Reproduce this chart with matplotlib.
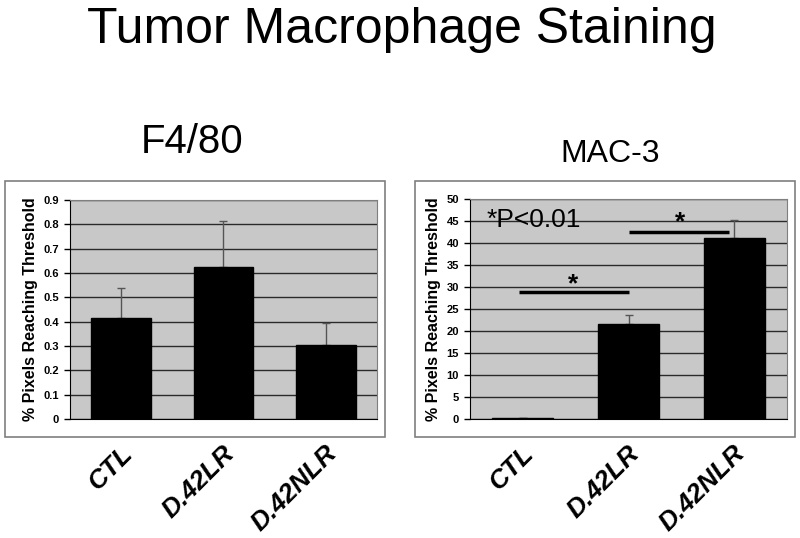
import numpy as np
import matplotlib
matplotlib.use('Agg')
import matplotlib.pyplot as plt
from matplotlib.patches import Rectangle
from matplotlib.transforms import ScaledTranslation

plt.rcParams['font.family'] = ['Liberation Sans', 'DejaVu Sans']

groups = ['CTL', 'D.42LR', 'D.42NLR']

# F4/80 panel
f480_mean = [0.415, 0.625, 0.305]
f480_err = [0.125, 0.19, 0.09]
f480_ticks = [0, 0.1, 0.2, 0.3, 0.4, 0.5, 0.6, 0.7, 0.8, 0.9]

# MAC-3 panel
mac3_mean = [0.3, 21.5, 41.2]
mac3_err = [0.0, 2.2, 4.0]
mac3_ticks = [0, 5, 10, 15, 20, 25, 30, 35, 40, 45, 50]

# significance brackets: (x start, x end, y)
sig_lines = [(-0.04, 1.0, 28.9), (1.0, 1.95, 42.6)]
sig_stars = [(0.475, 30.6), (1.49, 44.8)]

fig = plt.figure(figsize=(8, 5.38), dpi=100)

# chart area frames
for x0 in (5 / 800, 415 / 800):
    fig.patches.append(Rectangle((x0, 101 / 538), 380 / 800, 256 / 538,
                                 transform=fig.transFigure, facecolor='white',
                                 edgecolor='#7f7f7f', linewidth=1.2, zorder=-5))

ax1 = fig.add_axes([70 / 800, 119 / 538, 307 / 800, 219 / 538])
ax2 = fig.add_axes([470 / 800, 119 / 538, 317 / 800, 220 / 538])


def style_panel(ax, means, errs, ticks, ymax):
    x = np.arange(len(groups))
    ax.set_facecolor('#c8c8c8')
    ax.set_axisbelow(True)
    ax.yaxis.grid(True, color='#2a2a2a', linewidth=1.0)
    ax.bar(x, means, width=0.58, color='black', edgecolor='black', zorder=3)
    ax.errorbar(x, means, yerr=[np.zeros(len(errs)), errs], fmt='none',
                ecolor='#555555', elinewidth=1.0, capsize=3, capthick=1.0, zorder=2)
    ax.set_xlim(-0.5, 2.5)
    ax.set_ylim(0, ymax)
    ax.set_yticks(ticks)
    ax.set_yticklabels([('%g' % t) for t in ticks], fontsize=8, fontweight='bold')
    ax.tick_params(axis='y', length=4, width=1, pad=4, direction='out')
    ax.tick_params(axis='x', length=0, pad=16)
    ax.set_xticks(x)
    ax.set_xticklabels(groups, fontsize=19, fontweight='bold', style='italic',
                       rotation=45, ha='right')
    off = ScaledTranslation(16 / 100, 0, fig.dpi_scale_trans)
    for lab in ax.get_xticklabels():
        lab.set_transform(lab.get_transform() + off)
    ax.set_ylabel('% Pixels Reaching Threshold', fontsize=11.5, fontweight='bold',
                  labelpad=4)
    for s in ('top', 'right'):
        ax.spines[s].set_color('#7f7f7f')
    for s in ('left', 'bottom'):
        ax.spines[s].set_color('black')


style_panel(ax1, f480_mean, f480_err, f480_ticks, 0.9)
style_panel(ax2, mac3_mean, mac3_err, mac3_ticks, 50)

for x0, x1, y in sig_lines:
    ax2.plot([x0, x1], [y, y], color='black', linewidth=2.5, zorder=4,
             solid_capstyle='butt')
for xs, ys in sig_stars:
    ax2.text(xs, ys, '*', fontsize=19, fontweight='bold', ha='center',
             va='center', zorder=5)
ax2.text(0.053, 0.873, '*P<0.01', transform=ax2.transAxes, fontsize=19,
         va='baseline', ha='left', zorder=5)

fig.text(402 / 800, 1 - 43 / 538, 'Tumor Macrophage Staining', fontsize=36,
         ha='center', va='baseline')
fig.text(192 / 800, 1 - 153 / 538, 'F4/80', fontsize=29, ha='center', va='baseline')
fig.text(610 / 800, 1 - 162 / 538, 'MAC-3', fontsize=23, ha='center', va='baseline')

fig.savefig('out.png', dpi=100)
